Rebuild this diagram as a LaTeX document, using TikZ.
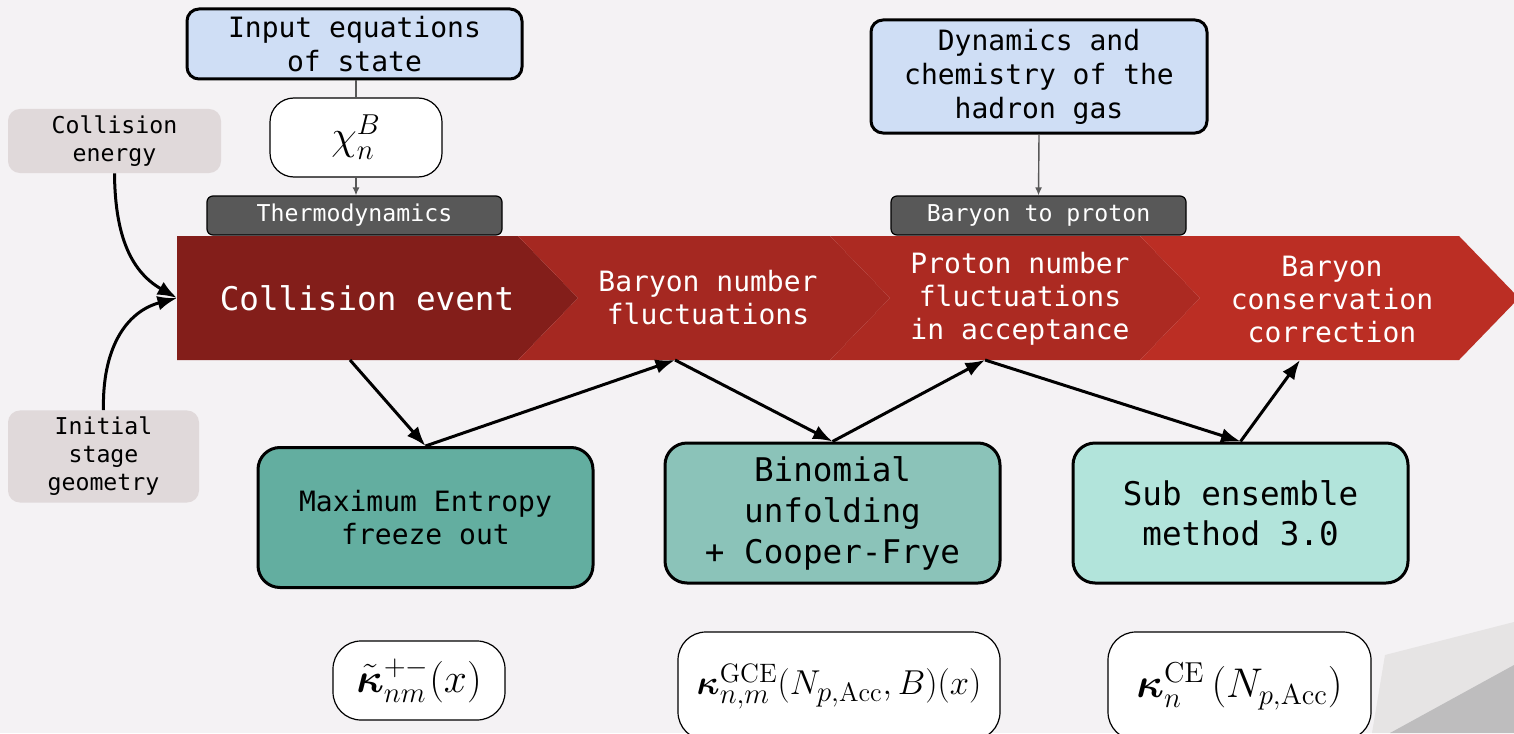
\documentclass[tikz,border=0pt]{standalone}
\usepackage{fontspec}
\usepackage{amsmath}
\setmonofont{DejaVu Sans Mono}
\usetikzlibrary{arrows.meta}
\definecolor{bgpaper}{RGB}{244,242,244}
\definecolor{bgshade}{RGB}{230,228,228}
\definecolor{bgdark}{RGB}{190,189,190}
\definecolor{inblue}{RGB}{207,222,245}
\definecolor{tagfill}{RGB}{224,217,218}
\definecolor{stepgray}{RGB}{88,88,88}
\definecolor{segA}{RGB}{131,30,26}
\definecolor{segB}{RGB}{165,40,33}
\definecolor{segC}{RGB}{172,42,34}
\definecolor{segD}{RGB}{187,46,36}
\definecolor{tealA}{RGB}{99,174,160}
\definecolor{tealB}{RGB}{139,195,185}
\definecolor{tealC}{RGB}{178,228,219}
\begin{document}
\begin{tikzpicture}[x=0.5pt,y=-0.5pt,>=Latex,
  inbox/.style={draw,line width=1.5pt,rounded corners=6pt,fill=inblue,align=center,
    font=\fontsize{14}{17}\selectfont\ttfamily},
  tagbox/.style={fill=tagfill,rounded corners=6pt,align=center,
    font=\fontsize{11.6}{14}\selectfont\ttfamily},
  stagebar/.style={draw,line width=0.6pt,rounded corners=3pt,fill=stepgray,text=white,
    minimum width=147.5pt,minimum height=19.5pt,font=\fontsize{11.6}{14}\selectfont\ttfamily},
  chevtext/.style={text=white,align=center,font=\fontsize{14}{16.5}\selectfont\ttfamily},
  methodbox/.style={draw,line width=1.5pt,rounded corners=11pt,align=center,
    minimum width=167.5pt,minimum height=70pt},
  mathbox/.style={draw,line width=0.6pt,fill=white,rounded corners=14pt,font=\huge},
  thinarrow/.style={draw=stepgray,line width=0.7pt},
  flow/.style={->,line width=1.5pt}]
\useasboundingbox (0,0) rectangle (1514,733);
\fill[bgpaper] (0,0) rectangle (1514,733);
\fill[bgshade] (1372,733)--(1385,655)--(1514,622)--(1514,733)--cycle;
\fill[bgdark] (1390,733)--(1514,665)--(1514,733)--cycle;

% chevron band
\foreach \a/\b/\n/\c in {177/518/0/segA,518/830/60/segB,830/1140/60/segC,1140/1459/60/segD}{
  \fill[\c] (\a,236)--(\b,236)--(\b+60,298)--(\b,360)--(\a,360)--(\a+\n,298)--cycle;}
\node[chevtext,font=\fontsize{16.3}{19}\selectfont\ttfamily] (cev) at (367,298) {Collision event};
\node[chevtext] (bnf) at (708,298) {Baryon number\\fluctuations};
\node[chevtext] (pnf) at (1020,299) {Proton number\\fluctuations\\in acceptance};
\node[chevtext] (bcc) at (1332,299) {Baryon\\conservation\\correction};

% inputs
\node[inbox,minimum width=167.5pt,minimum height=35pt] (inp) at (354.5,44) {Input equations\\of state};
\node[mathbox,rounded corners=12pt,minimum width=86pt,minimum height=39.5pt] (chi) at (356,137.5) {$\chi_n^B$};
\node[stagebar] (thermo) at (354.5,215.5) {Thermodynamics};
\node[inbox,minimum width=168pt,minimum height=56.5pt] (dyn) at (1039,76.5) {Dynamics and\\chemistry of the\\hadron gas};
\node[stagebar] (b2p) at (1038.5,215.5) {Baryon to proton};
\draw[thinarrow] (inp.south -| chi.north) -- (chi.north);
\draw[thinarrow,-{Latex[length=4pt,width=3.5pt]}] (chi.south) -- (thermo.north -| chi.south);
\draw[thinarrow,-{Latex[length=4pt,width=3.5pt]}] (dyn.south) -- (b2p.north);

\node[tagbox,minimum width=106.5pt,minimum height=31pt] (ceng) at (114.5,141) {Collision\\energy};
\node[tagbox,minimum width=95.5pt,minimum height=45.5pt] (init) at (103.5,456.5) {Initial\\stage\\geometry};
\coordinate (cin) at (177,298);
\draw[flow] (ceng.south) .. controls (115,230) and (128,270) .. (cin);
\draw[flow] (init.north) .. controls (102,350) and (125,312) .. (cin);

% methods
\node[methodbox,fill=tealA,font=\fontsize{14}{16.5}\selectfont\ttfamily] (maxent) at (425.5,517.5) {Maximum Entropy\\freeze out};
\node[methodbox,fill=tealB,font=\fontsize{16.3}{20.5}\selectfont\ttfamily] (binom) at (832.5,513) {Binomial\\unfolding\\+ Cooper-Frye};
\node[methodbox,fill=tealC,font=\fontsize{16.3}{20}\selectfont\ttfamily] (subens) at (1240.5,513) {Sub ensemble\\method 3.0};
\coordinate (b1) at (350,360);
\coordinate (b2) at (675,360);
\coordinate (b3) at (985,360);
\coordinate (b4) at (1300,360);
\draw[flow] (b1) -- (maxent.north);
\draw[flow] (maxent.north) -- (b2);
\draw[flow] (b2) -- (binom.north);
\draw[flow] (binom.north) -- (b3);
\draw[flow] (b3) -- (subens.north);
\draw[flow] (subens.north) -- (b4);

% observables
\node[mathbox,minimum width=86pt,minimum height=39.5pt] (kmax) at (419,680.5) {$\tilde{\boldsymbol{\kappa}}_{nm}^{+-}(x)$};
\node[mathbox,font=\fontsize{19}{22}\selectfont,minimum width=161pt,minimum height=54pt] (kgce) at (839,686) {$\boldsymbol{\kappa}_{n,m}^{\mathrm{GCE}}(N_{p,\mathrm{Acc}},B)(x)$};
\node[mathbox,minimum width=131.5pt,minimum height=54pt] (kce) at (1239.5,686) {$\boldsymbol{\kappa}_{n}^{\mathrm{CE}}\,(N_{p,\mathrm{Acc}})$};
\end{tikzpicture}
\end{document}
